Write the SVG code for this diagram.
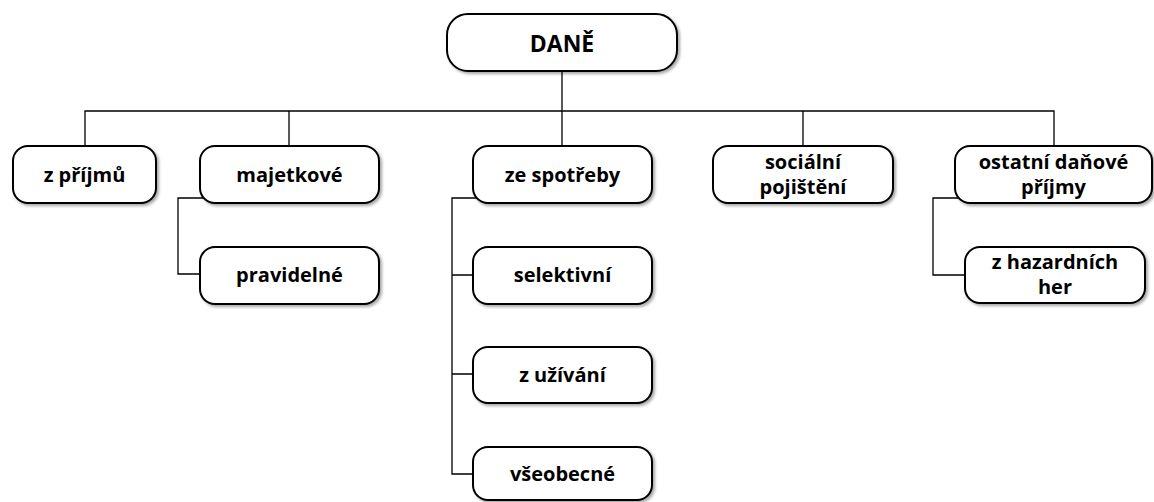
<svg xmlns="http://www.w3.org/2000/svg" width="1154" height="502" viewBox="0 0 1154 502">
<style>
.box{fill:#fff;stroke:#000;stroke-width:2;filter:url(#sh)}
.t{font-family:"Open Sans","Liberation Sans",sans-serif;font-weight:bold;font-size:20px;fill:#000;text-anchor:middle}
.big{font-size:23px}
.c{fill:none;stroke:#000;stroke-width:1.3}
</style>
<defs>
<filter id="sh" x="-10%" y="-20%" width="120%" height="150%">
<feDropShadow dx="2" dy="2" stdDeviation="1.5" flood-color="#000" flood-opacity="0.35"/>
</filter>
</defs>
<g id="connectors">
<path class="c" d="M562,71 V111 M85,146 V111 H1054 V146 M289,111 V146 M562,111 V146 M803,111 V146"/>
<path class="c" d="M204,198 H178 V274 H202"/>
<path class="c" d="M477,198 H452 V474 H475 M452,275 H475 M452,374 H475"/>
<path class="c" d="M959,198 H933 V275 H967"/>
</g>
<g id="dane"><rect class="box" x="447" y="14" width="230" height="57" rx="21"/><text class="t big" x="562" y="52">DANĚ</text></g>
<g id="z-prijmu"><rect class="box" x="13" y="146" width="143" height="57" rx="15"/><text class="t" x="84.5" y="182">z příjmů</text></g>
<g id="majetkove"><rect class="box" x="200" y="146" width="179" height="57" rx="15"/><text class="t" x="289.5" y="182">majetkové</text></g>
<g id="ze-spotreby"><rect class="box" x="473" y="146" width="179" height="57" rx="15"/><text class="t" x="562.5" y="182">ze spotřeby</text></g>
<g id="socialni"><rect class="box" x="713" y="146" width="180" height="57" rx="15"/><text class="t" x="803" y="169">sociální</text><text class="t" x="803" y="194">pojištění</text></g>
<g id="ostatni"><rect class="box" x="955" y="146" width="197" height="57" rx="15"/><text class="t" x="1053.5" y="169">ostatní daňové</text><text class="t" x="1053.5" y="194">příjmy</text></g>
<g id="pravidelne"><rect class="box" x="200" y="247" width="179" height="57" rx="15"/><text class="t" x="289.5" y="282">pravidelné</text></g>
<g id="selektivni"><rect class="box" x="473" y="247" width="179" height="57" rx="15"/><text class="t" x="562.5" y="282">selektivní</text></g>
<g id="z-uzivani"><rect class="box" x="473" y="347" width="179" height="56" rx="15"/><text class="t" x="562.5" y="382">z užívání</text></g>
<g id="vseobecne"><rect class="box" x="473" y="447" width="179" height="53" rx="15"/><text class="t" x="562.5" y="481">všeobecné</text></g>
<g id="z-hazardnich"><rect class="box" x="965" y="247" width="180" height="56" rx="15"/><text class="t" x="1055" y="269">z hazardních</text><text class="t" x="1055" y="294">her</text></g>
</svg>
